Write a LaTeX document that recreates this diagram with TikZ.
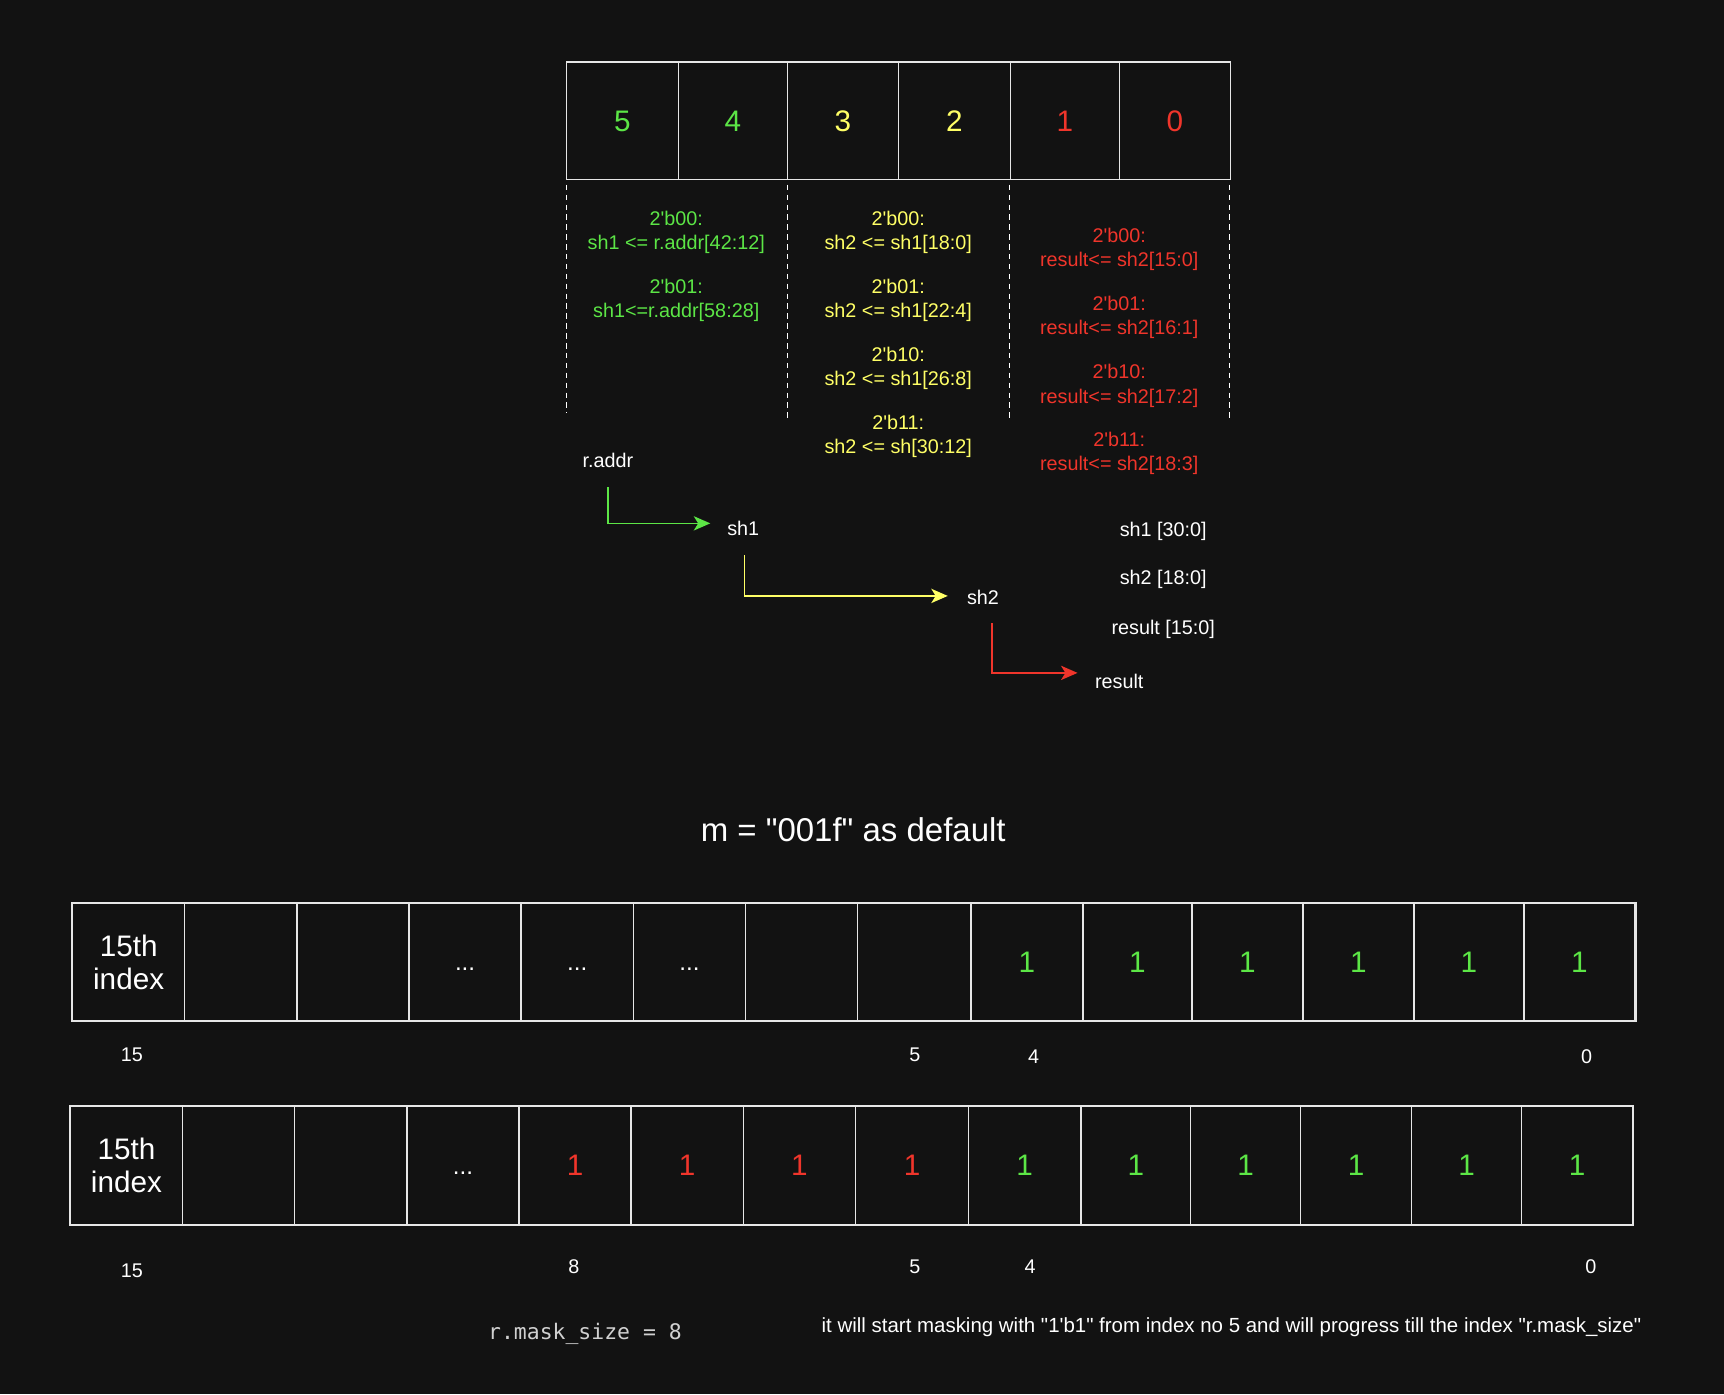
\documentclass[tikz,border=0pt]{standalone}
\usepackage{fontspec}
\setmainfont{Liberation Sans}[Ligatures=TeXOff]
\newfontfamily\codefont{DejaVu Sans Mono}[Ligatures=TeXOff]
\usetikzlibrary{arrows.meta}
\definecolor{bg}{HTML}{121212}
\definecolor{cg}{HTML}{5CE646}
\definecolor{cy}{HTML}{FFFF66}
\definecolor{cr}{HTML}{F0352B}
\definecolor{cw}{HTML}{FFFFFF}
\definecolor{cline}{HTML}{E6E6E6}
\definecolor{cgray}{HTML}{D0D0D0}
\newcommand\threedots{\smash{\raisebox{-8pt}{\fontsize{22}{24}\selectfont ...}}}
\tikzset{
  cell/.style={draw=cline, line width=1.3pt, fill=bg, inner sep=0pt, font=\fontsize{27}{30}\selectfont, align=center},
  small/.style={font=\fontsize{18}{22}\selectfont, align=center, inner sep=2pt},
  idx/.style={font=\fontsize{18}{22}\selectfont, text=cw, inner sep=2pt},
  sep/.style={draw=cw, line width=1.2pt, dash pattern=on 5pt off 4pt},
  flow/.style={line width=1.4pt, -{Stealth[length=15pt,width=13pt,inset=4pt]}},
}
\begin{document}
\begin{tikzpicture}[x=1pt,y=-1pt]
\fill[bg] (0,0) rectangle (1568,1268);
\useasboundingbox (0,0) rectangle (1568,1268);

% top register
\foreach \l/\r/\t/\c [count=\i] in {515/617/5/cg,617/716/4/cg,716/817/3/cy,817/919/2/cy,919/1018/1/cr,1018/1119/0/cr}{
  \pgfmathsetmacro\w{\r-\l}
  \pgfmathsetmacro\m{(\r+\l)/2}
  \node[cell, minimum width=\w pt, minimum height=107pt, text=\c] (top\i) at (\m,110) {\t};
}

% dashed separators
\coordinate (d1a) at (515,168); \coordinate (d1b) at (515,376);
\coordinate (d2a) at (716,168); \coordinate (d2b) at (716,380);
\coordinate (d3a) at (918,168); \coordinate (d3b) at (918,380);
\coordinate (d4a) at (1118,168); \coordinate (d4b) at (1118,380);
\draw[sep] (d1a) -- (d1b);
\draw[sep] (d2a) -- (d2b);
\draw[sep] (d3a) -- (d3b);
\draw[sep] (d4a) -- (d4b);

% green column
\node[small, text=cg] (g1) at (615,211) {2'b00:\\sh1 <= r.addr[42:12]};
\node[small, text=cg] (g2) at (615,273) {2'b01:\\sh1<=r.addr[58:28]};
% yellow column
\node[small, text=cy] (y1) at (817,211) {2'b00:\\sh2 <= sh1[18:0]};
\node[small, text=cy] (y2) at (817,273) {2'b01:\\sh2 <= sh1[22:4]};
\node[small, text=cy] (y3) at (817,335) {2'b10:\\sh2 <= sh1[26:8]};
\node[small, text=cy] (y4) at (817,397) {2'b11:\\sh2 <= sh[30:12]};
% red column
\node[small, text=cr] (r1) at (1018,227) {2'b00:\\result<= sh2[15:0]};
\node[small, text=cr] (r2) at (1018,289) {2'b01:\\result<= sh2[16:1]};
\node[small, text=cr] (r3) at (1018,351) {2'b10:\\result<= sh2[17:2]};
\node[small, text=cr] (r4) at (1018,412) {2'b11:\\result<= sh2[18:3]};

% flow
\node[small, text=cw] (raddr) at (553,419) {r.addr};
\node[small, text=cw] (sh1) at (676,481) {sh1};
\node[small, text=cw] (sh2) at (894,543) {sh2};
\node[small, text=cw] (res) at (1018,620) {result};
\node[small, text=cw] (w1) at (1058,483) {sh1 [30:0]};
\node[small, text=cw] (w2) at (1058,527) {sh2 [18:0]};
\node[small, text=cw] (w3) at (1058,572) {result [15:0]};

\coordinate (a1s) at (553,443); \coordinate (a1e) at (646,476);
\coordinate (a2s) at (677,505); \coordinate (a2e) at (862,542);
\coordinate (a3s) at (902,567); \coordinate (a3e) at (980,612);
\draw[flow, cg] (a1s) |- (a1e);
\draw[flow, cy] (a2s) |- (a2e);
\draw[flow, cr] (a3s) |- (a3e);

% title
\node[font=\fontsize{30}{34}\selectfont, text=cw] (title) at (776,755) {m = "001f" as default};

% bottom register 1
\foreach \l/\r/\t/\c [count=\i] in {66/168/{15th\\index}/cw,168/270//cw,270/372//cw,372/474/\threedots/cw,474/576/\threedots/cw,576/678/\threedots/cw,678/780//cw,780/883//cw,883/985/1/cg,985/1084/1/cg,1084/1185/1/cg,1185/1286/1/cg,1286/1386/1/cg,1386/1487/1/cg}{
  \pgfmathsetmacro\w{\r-\l}
  \pgfmathsetmacro\m{(\r+\l)/2}
  \node[cell, minimum width=\w pt, minimum height=107pt, text=\c] (ba\i) at (\m,875) {\t};
}
\draw[cline, line width=1.6pt] (ba1.north west) rectangle (ba14.south east);
\node[idx] (la15) at (120,959) {15};
\node[idx] (la5) at (832,959) {5};
\node[idx] (la4) at (940,961) {4};
\node[idx] (la0) at (1443,961) {0};

% bottom register 2
\foreach \l/\r/\t/\c [count=\i] in {64/166/{15th\\index}/cw,166/268//cw,268/370//cw,370/472/\threedots/cw,472/574/1/cr,574/676/1/cr,676/778/1/cr,778/881/1/cr,881/983/1/cg,983/1083/1/cg,1083/1183/1/cg,1183/1284/1/cg,1284/1384/1/cg,1384/1485/1/cg}{
  \pgfmathsetmacro\w{\r-\l}
  \pgfmathsetmacro\m{(\r+\l)/2}
  \node[cell, minimum width=\w pt, minimum height=108pt, text=\c] (bb\i) at (\m,1060) {\t};
}
\draw[cline, line width=1.6pt] (bb1.north west) rectangle (bb14.south east);
\node[idx] (lb15) at (120,1156) {15};
\node[idx] (lb8) at (522,1152) {8};
\node[idx] (lb5) at (832,1152) {5};
\node[idx] (lb4) at (937,1152) {4};
\node[idx] (lb0) at (1447,1152) {0};

\node[font=\codefont\fontsize{19.5}{22}\selectfont, text=cgray] (msize) at (532,1213) {r.mask\_size = 8};
\node[idx, font=\fontsize{18.6}{22}\selectfont] (note) at (1120,1207) {it will start masking with "1'b1" from index no 5 and will progress till the index "r.mask\_size"};
\end{tikzpicture}
\end{document}
